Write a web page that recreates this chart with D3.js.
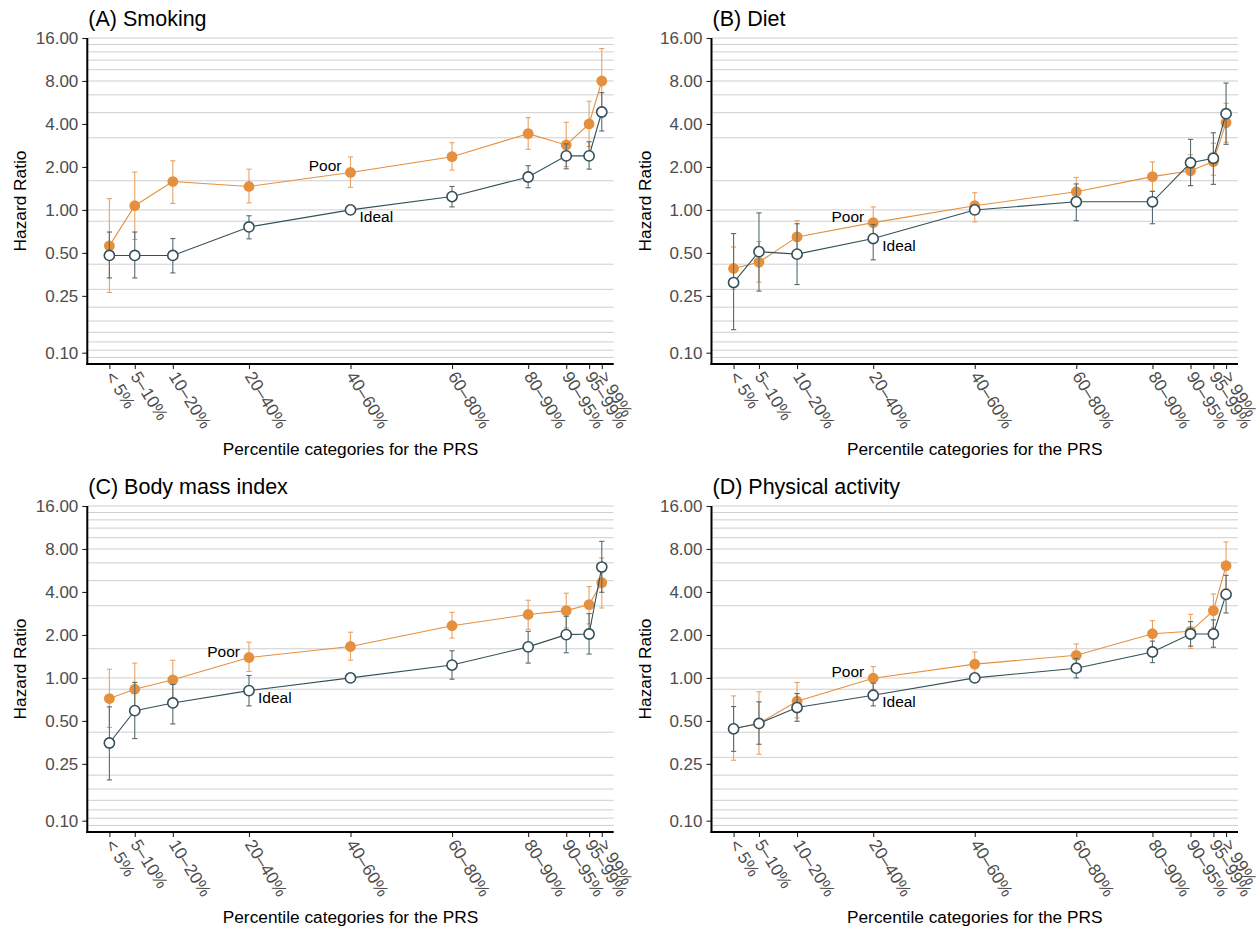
<!DOCTYPE html>
<html>
<head>
<meta charset="utf-8">
<script src="https://cdn.jsdelivr.net/npm/d3@7"></script>
<style>
  html, body { margin: 0; padding: 0; background: #ffffff; }
  svg { display: block; font-family: "Liberation Sans", Arial, Helvetica, sans-serif; }
</style>
</head>
<body>
<svg id="chart" width="1260" height="929"></svg>
<script>
// PRS percentile categories and their mid-points on the percentile axis
const categories = ["< 5%", "5\u201310%", "10\u201320%", "20\u201340%", "40\u201360%",
                    "60\u201380%", "80\u201390%", "90\u201395%", "95\u201399%", "> 99%"];
const categoryMid = [2.5, 7.5, 15, 30, 50, 70, 85, 92.5, 97, 99.5];

// y-axis labelled ticks and background reference lines (hazard ratio)
const yTicks = [16, 8, 4, 2, 1, 0.5, 0.25, 0.1];
const yTickLabels = ["16.00", "8.00", "4.00", "2.00", "1.00", "0.50", "0.25", "0.10"];
const gridValues = [16, 14.4, 12.8, 11.2, 9.6, 8, 6.4, 4.8, 3.2, 1.6, 1,
                    5/6, 5/12, 5/18, 5/24, 1/6, 5/36, 5/42, 5/48, 5/54];

// (A) Smoking
const smokingPoorHR  = [0.56, 1.07, 1.58, 1.46, 1.83, 2.36, 3.42, 2.85, 4.00, 8.00];
const smokingPoorLo  = [0.264, 0.62, 1.11, 1.12, 1.44, 1.90, 2.66, 2.01, 2.78, 4.90];
const smokingPoorHi  = [1.20, 1.84, 2.21, 1.93, 2.35, 2.96, 4.43, 4.11, 5.77, 13.5];
const smokingIdealHR = [0.48, 0.48, 0.48, 0.76, 1.00, 1.24, 1.70, 2.39, 2.39, 4.85];
const smokingIdealLo = [0.334, 0.334, 0.362, 0.627, null, 1.05, 1.43, 1.94, 1.93, 3.57];
const smokingIdealHi = [0.70, 0.70, 0.63, 0.91, null, 1.46, 2.04, 2.90, 3.00, 6.63];

// (B) Diet
const dietPoorHR  = [0.389, 0.43, 0.647, 0.815, 1.07, 1.34, 1.71, 1.88, 2.18, 4.09];
const dietPoorLo  = [0.277, 0.312, 0.51, 0.63, 0.824, 1.07, 1.35, 1.48, 1.75, 2.98];
const dietPoorHi  = [0.55, 0.60, 0.84, 1.05, 1.32, 1.69, 2.17, 2.43, 2.93, 5.58];
const dietIdealHR = [0.31, 0.51, 0.49, 0.63, 1.00, 1.14, 1.14, 2.14, 2.30, 4.72];
const dietIdealLo = [0.145, 0.27, 0.30, 0.447, null, 0.84, 0.80, 1.48, 1.51, 2.88];
const dietIdealHi = [0.683, 0.953, 0.80, 0.79, null, 1.52, 1.35, 3.12, 3.47, 7.74];

// (C) Body mass index
const bmiPoorHR  = [0.717, 0.833, 0.97, 1.39, 1.66, 2.32, 2.78, 2.96, 3.26, 4.65];
const bmiPoorLo  = [0.45, 0.55, 0.70, 1.11, 1.33, 1.90, 2.19, 2.24, 2.39, 3.09];
const bmiPoorHi  = [1.15, 1.27, 1.33, 1.78, 2.09, 2.88, 3.50, 3.92, 4.36, 6.92];
const bmiIdealHR = [0.35, 0.59, 0.668, 0.815, 1.00, 1.23, 1.65, 2.01, 2.03, 5.98];
const bmiIdealLo = [0.193, 0.376, 0.476, 0.637, null, 0.98, 1.27, 1.50, 1.47, 3.98];
const bmiIdealHi = [0.627, 0.93, 0.90, 1.04, null, 1.55, 2.12, 2.70, 2.82, 9.05];

// (D) Physical activity
const paPoorHR  = [0.442, 0.48, 0.687, 0.995, 1.25, 1.44, 2.04, 2.12, 2.96, 6.11];
const paPoorLo  = [0.265, 0.292, 0.525, 0.83, 1.01, 1.19, 1.65, 1.61, 2.26, 4.22];
const paPoorHi  = [0.748, 0.80, 0.93, 1.20, 1.52, 1.73, 2.52, 2.79, 3.87, 8.96];
const paIdealHR = [0.44, 0.48, 0.62, 0.756, 1.00, 1.17, 1.52, 2.03, 2.03, 3.85];
const paIdealLo = [0.306, 0.343, 0.497, 0.637, null, 1.00, 1.28, 1.67, 1.64, 2.85];
const paIdealHi = [0.63, 0.68, 0.777, 0.918, null, 1.37, 1.81, 2.48, 2.55, 5.23];

const panelTitles = ["(A) Smoking", "(B) Diet", "(C) Body mass index", "(D) Physical activity"];
const labelIndex = [4, 3, 3, 3]; // category next to which "Poor" / "Ideal" are written

const panels = [
  { title: panelTitles[0], left: 87.3, right: 613.7, top: 38, bottom: 364, lab: labelIndex[0],
    poor: [smokingPoorHR, smokingPoorLo, smokingPoorHi], ideal: [smokingIdealHR, smokingIdealLo, smokingIdealHi] },
  { title: panelTitles[1], left: 711.5, right: 1238, top: 38, bottom: 364, lab: labelIndex[1],
    poor: [dietPoorHR, dietPoorLo, dietPoorHi], ideal: [dietIdealHR, dietIdealLo, dietIdealHi] },
  { title: panelTitles[2], left: 87.3, right: 613.7, top: 506, bottom: 832, lab: labelIndex[2],
    poor: [bmiPoorHR, bmiPoorLo, bmiPoorHi], ideal: [bmiIdealHR, bmiIdealLo, bmiIdealHi] },
  { title: panelTitles[3], left: 711.5, right: 1238, top: 506, bottom: 832, lab: labelIndex[3],
    poor: [paPoorHR, paPoorLo, paPoorHi], ideal: [paIdealHR, paIdealLo, paIdealHi] }
];

const ORANGE = "#E5903E";
const ORANGE_BAR = "#EAA263";
const SLATE = "#33505A";
const SLATE_BAR = "#556B71";
const AXIS_TEXT = "#4D4D4D";

const svg = d3.select("#chart");

panels.forEach(p => {
  const g = svg.append("g");
  const x = d3.scaleLinear().domain([-1.85, 101.85]).range([p.left, p.right]);
  const y = d3.scaleLog().domain([1 / 12, 16]).range([p.bottom, p.top]);

  // background reference lines
  g.append("g").selectAll("line").data(gridValues).join("line")
    .attr("x1", p.left + 1).attr("x2", p.right)
    .attr("y1", d => y(d)).attr("y2", d => y(d))
    .attr("stroke", "#cfcfcf").attr("stroke-width", 1);

  // y axis
  const yAxis = d3.axisLeft(y).tickValues(yTicks)
    .tickFormat((d, i) => yTickLabels[i]).tickSize(5).tickPadding(4);
  const ya = g.append("g").attr("transform", `translate(${p.left},0)`).call(yAxis);
  ya.select(".domain").remove();
  ya.selectAll(".tick line").attr("stroke", "#222").attr("stroke-width", 1.1);
  ya.selectAll(".tick text").attr("fill", AXIS_TEXT).style("font-size", "17px")
    .style("font-family", "'Liberation Sans', Arial, sans-serif");

  // x axis
  const xAxis = d3.axisBottom(x).tickValues(categoryMid)
    .tickFormat((d, i) => categories[i]).tickSize(5);
  const xa = g.append("g").attr("transform", `translate(0,${p.bottom})`).call(xAxis);
  xa.select(".domain").remove();
  xa.selectAll(".tick line").attr("stroke", "#222").attr("stroke-width", 1.1);
  xa.selectAll(".tick text")
    .attr("fill", AXIS_TEXT).style("font-size", "17.3px")
    .style("font-family", "'Liberation Sans', Arial, sans-serif")
    .attr("text-anchor", "start")
    .attr("y", 0).attr("dy", "0.35em")
    .attr("transform", "translate(0,9) rotate(58)");

  // axis lines
  g.append("line").attr("x1", p.left).attr("x2", p.left)
    .attr("y1", p.top).attr("y2", p.bottom + 1)
    .attr("stroke", "#000").attr("stroke-width", 2);
  g.append("line").attr("x1", p.left - 1).attr("x2", p.right)
    .attr("y1", p.bottom).attr("y2", p.bottom)
    .attr("stroke", "#000").attr("stroke-width", 2);

  // titles
  g.append("text").attr("x", p.left + 1).attr("y", p.top - 12)
    .attr("fill", "#000").style("font-size", "21.5px").text(p.title);
  g.append("text")
    .attr("transform", `translate(${p.left - 61},${(p.top + p.bottom) / 2}) rotate(-90)`)
    .attr("text-anchor", "middle").attr("fill", "#000").style("font-size", "17.3px")
    .text("Hazard Ratio");
  g.append("text").attr("x", (p.left + p.right) / 2).attr("y", p.bottom + 91)
    .attr("text-anchor", "middle").attr("fill", "#000").style("font-size", "17.3px")
    .text("Percentile categories for the PRS");

  const line = d3.line().x(d => x(d.m)).y(d => y(d.v));
  const rows = (arr) => categoryMid.map((m, i) => ({ m, v: arr[0][i], lo: arr[1][i], hi: arr[2][i] }));
  const poorRows = rows(p.poor);
  const idealRows = rows(p.ideal);
  const cap = 2.6;

  function errorBars(data, color, width) {
    const eb = g.append("g").attr("stroke", color).attr("stroke-width", width).attr("fill", "none");
    data.filter(d => d.lo != null && d.hi != null).forEach(d => {
      const cx = x(d.m), y0 = y(d.lo), y1 = y(d.hi);
      eb.append("line").attr("x1", cx).attr("x2", cx).attr("y1", y0).attr("y2", y1);
      eb.append("line").attr("x1", cx - cap).attr("x2", cx + cap).attr("y1", y0).attr("y2", y0);
      eb.append("line").attr("x1", cx - cap).attr("x2", cx + cap).attr("y1", y1).attr("y2", y1);
    });
  }

  // Poor lifestyle series
  errorBars(poorRows, ORANGE_BAR, 1.1);
  g.append("path").datum(poorRows).attr("d", line)
    .attr("fill", "none").attr("stroke", ORANGE).attr("stroke-width", 1.1);
  g.append("g").selectAll("circle").data(poorRows).join("circle")
    .attr("cx", d => x(d.m)).attr("cy", d => y(d.v)).attr("r", 5.4)
    .attr("fill", ORANGE);

  // Ideal lifestyle series
  errorBars(idealRows, SLATE_BAR, 1.1);
  g.append("path").datum(idealRows).attr("d", line)
    .attr("fill", "none").attr("stroke", SLATE).attr("stroke-width", 1.1);
  g.append("g").selectAll("circle").data(idealRows).join("circle")
    .attr("cx", d => x(d.m)).attr("cy", d => y(d.v)).attr("r", 5.1)
    .attr("fill", "#fff").attr("stroke", SLATE).attr("stroke-width", 1.6);

  // series labels
  const pl = poorRows[p.lab], il = idealRows[p.lab];
  g.append("text").attr("x", x(pl.m) - 9).attr("y", y(pl.v) - 1)
    .attr("text-anchor", "end").attr("fill", "#000").style("font-size", "15.5px").text("Poor");
  g.append("text").attr("x", x(il.m) + 9).attr("y", y(il.v) + 12)
    .attr("text-anchor", "start").attr("fill", "#000").style("font-size", "15.5px").text("Ideal");
});
</script>
</body>
</html>
